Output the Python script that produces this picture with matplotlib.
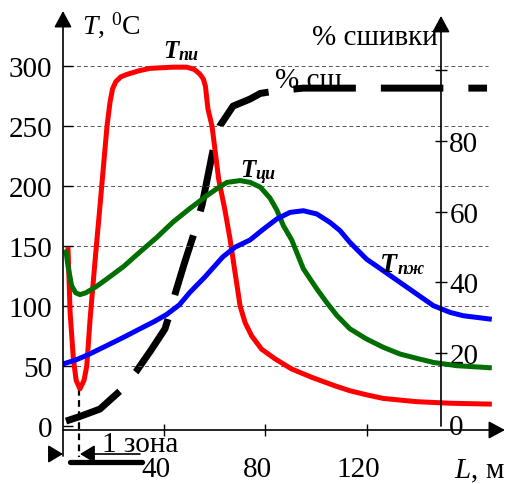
import matplotlib
matplotlib.use('Agg')
import matplotlib.pyplot as plt
from matplotlib.transforms import ScaledTranslation

plt.rcParams['font.family'] = 'Liberation Serif'
plt.rcParams['mathtext.fontset'] = 'custom'
plt.rcParams['mathtext.rm'] = 'Liberation Serif'
plt.rcParams['mathtext.it'] = 'Liberation Serif:italic'

# T_пи (red)
L_pi = [2.0, 2.8, 4.1, 5.2, 6.7, 8.3, 9.4, 10.7, 12.6, 14.6, 17.4, 18.6, 19.6, 20.9, 22.9,
        25.3, 30, 34.4, 43.5, 49, 52, 54.2, 55.5, 56.3, 57.3, 58.9, 61.5, 64, 66, 68, 70, 72,
        74.6, 78.5, 83.8, 90.4, 98.3, 107.5, 113.4, 120, 126.6, 139.8, 153, 168.5]
T_pi = [147, 95, 56, 38, 31, 38, 50, 89, 136, 183, 250, 270, 281, 287, 291,
        293, 296, 298, 299, 299, 297, 293, 289, 283, 264, 250, 206, 180, 156, 128, 100, 86,
        75, 64, 56, 47.5, 40.6, 33.5, 29.4, 26, 23, 20.3, 19, 18.3]

# T_ци (green)
L_ci = [1.2, 2.0, 3.4, 5, 6.7, 9, 13, 17.3, 24, 30.4, 37, 43.5, 50, 56.9, 61, 64.8, 70,
        74, 78, 81.8, 84.5, 87.1, 90.4, 95, 100.4, 104.2, 108.3, 113.4, 120, 126.6, 133.2,
        139.8, 146.4, 155.6, 168.5]
T_ci = [145, 133, 117, 111, 109.5, 111, 116, 122.5, 133, 145, 157, 170, 181, 192, 198, 203, 204.5,
        203, 199, 190, 180, 167, 155, 131, 114, 103, 92, 81, 72.5, 65.6, 60,
        56.4, 53, 50.3, 48.6]

# T_пж (blue)
L_pj = [0, 5, 10, 17.3, 24, 30.4, 36, 41, 46, 50.2, 56, 63.2, 68, 73.9, 79.2, 84.5, 89.7, 95,
        100.3, 105.5, 109.5, 113.4, 120, 126.6, 133.2, 139.8, 146.4, 153, 158.2, 168.5]
T_pj = [51.7, 55, 59.5, 67, 74, 81, 87, 93, 101, 111.5, 124, 141, 149, 155, 164, 172.5, 178, 179.4,
        176.7, 169.7, 162.8, 153, 139, 129.4, 119.7, 110, 100.3, 94.7, 91.9, 89.2]

# % сшивки (black dashed, right axis)
L_sh = [1.2, 6.3, 14.6, 22.5, 29, 34.8, 40.3, 41.5, 44.3, 47.8, 51.4, 55, 59.4, 62, 67.2,
        73.9, 78, 85, 95, 167.6]
p_sh = [0.7, 1.9, 4.1, 9.2, 14.8, 20.8, 26.8, 29.6, 36.7, 45, 53, 62, 77.8, 84.3, 89.9,
        91.9, 93.5, 94.3, 95, 95]

t_ticks = [0, 50, 100, 150, 200, 250, 300]
l_ticks = [40, 80, 120]
p_ticks = [0, 20, 40, 60, 80, 100]
p_labels = ['0', '20', '40', '60', '80', '']

XMAX = 174.7
YMIN, YMAX = -3.3, 345.8
L_RIGHT = 149.4

fig = plt.figure(figsize=(5.07, 4.85), dpi=100)
ax = fig.add_axes([63 / 507, 54 / 485, 442 / 507, 419 / 485])
ax.set_xlim(0, XMAX)
ax.set_ylim(YMIN, YMAX)
for s in ax.spines.values():
    s.set_visible(False)

ax2 = ax.twinx()
ax2.set_ylim((1.2 * YMIN - 2.5) / 3.53, (1.2 * YMAX - 2.5) / 3.53)
for s in ax2.spines.values():
    s.set_visible(False)
ax2.spines['right'].set_position(('data', L_RIGHT))
ax.set_zorder(ax2.get_zorder() + 1)
ax.patch.set_visible(False)

# grid
ax.hlines(t_ticks[1:], 0, 168, colors='#555555', linestyles=(0, (4, 3)), lw=0.7, zorder=1)

# ticks
ax.set_yticks(t_ticks)
ax.tick_params(axis='y', direction='in', length=7, width=1, labelsize=21, pad=8)
ax.set_xticks(l_ticks)
ax.tick_params(axis='x', direction='inout', length=8, width=1, labelsize=21, pad=14.5)
off = ScaledTranslation(-0.08, 0, fig.dpi_scale_trans)
for lab in ax.get_xticklabels():
    lab.set_transform(lab.get_transform() + off)

ax2.set_yticks(p_ticks, p_labels)
ax2.tick_params(axis='y', direction='inout', length=8, width=1, labelsize=21, pad=2)
ax2.yaxis.get_major_ticks()[0].tick2line.set_visible(False)

# curves
ax.plot(L_pi, T_pi, color='#ff0000', lw=3.6, solid_joinstyle='round', zorder=3)
ax.plot(L_ci, T_ci, color='#006e00', lw=3.6, solid_joinstyle='round', zorder=3)
ax.plot(L_pj, T_pj, color='#0000ff', lw=3.6, solid_joinstyle='round', zorder=3)
ax2.plot(L_sh, p_sh, color='k', lw=5, ls=(0, (9, 3.6)), dash_capstyle='butt')

# axes with arrows
head = dict(arrowstyle='-|>,head_length=0.5,head_width=0.27', mutation_scale=20,
            lw=1.2, color='k', shrinkA=0, shrinkB=0)
ax.annotate('', xy=(0, YMAX), xytext=(0, -25), arrowprops=head, annotation_clip=False)
ax.annotate('', xy=(XMAX, YMIN), xytext=(0, YMIN), arrowprops=head, annotation_clip=False)
ax.annotate('', xy=(L_RIGHT, 341.7), xytext=(L_RIGHT, 0), arrowprops=head, annotation_clip=False)

# zone 1
dim = dict(arrowstyle='-|>,head_length=0.45,head_width=0.27', mutation_scale=20,
           lw=1.2, color='k', shrinkA=0, shrinkB=0)
ax.annotate('', xy=(0, -23.3), xytext=(-5.1, -23.3), arrowprops=dim, annotation_clip=False)
ax.annotate('', xy=(6.7, -23.3), xytext=(30.4, -23.3), arrowprops=dim, annotation_clip=False)
ax.plot([2.8, 31.2], [-30, -30], color='k', lw=3.8, solid_capstyle='round', clip_on=False)
ax.plot([6.3, 6.3], [31, -26], color='k', lw=1.6, ls=(0, (3, 2)), clip_on=False)
ax.text(15.4, -20.5, '1 зона', fontsize=21, ha='left', va='baseline')


def curve_label(x, y, main, sub, size):
    ax.text(x, y, main, fontsize=size, fontweight='bold', style='italic',
            ha='left', va='baseline', zorder=5)
    ax.annotate(sub, xy=(x, y), xytext=(0.62 * size, -1.5), textcoords='offset points',
                fontsize=13, fontweight='bold', style='italic', ha='left', va='baseline',
                zorder=5)


curve_label(39.5, 307.5, 'T', 'пи', 18)
curve_label(70, 208, 'T', 'ци', 18)
curve_label(125.3, 129.2, 'T', 'пж', 20)

ax.text(7.5, 327.5, r'$T$, $^0$C', fontsize=20, ha='left', va='baseline')
ax.text(98.4, 318.3, '% сшивки', fontsize=21, ha='left', va='baseline')
ax.text(83.8, 282.5, '% сш', fontsize=21, ha='left', va='baseline')
ax.text(XMAX, -42.5, r'$L$, м', fontsize=21, ha='right', va='baseline')

fig.savefig('out.png', dpi=100)
